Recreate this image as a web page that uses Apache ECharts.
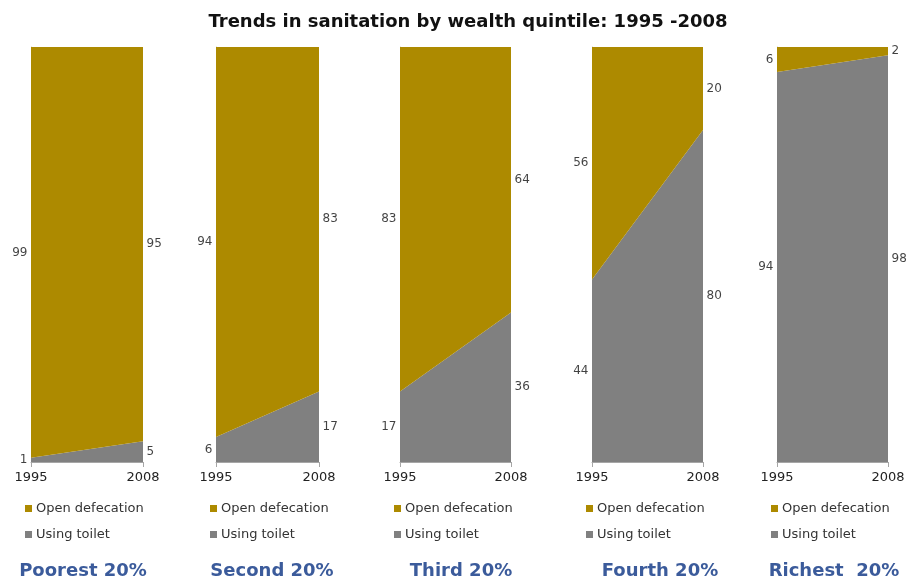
<!DOCTYPE html>
<html>
<head>
<meta charset="utf-8">
<script src="https://cdn.jsdelivr.net/npm/echarts@6/dist/echarts.min.js"></script>
<style>html,body{margin:0;padding:0;background:#fff}#c{width:918px;height:580px}</style>
</head>
<body>
<div id="c"></div>
<script>
const years = ['1995', '2008'];
const groups = ['Poorest 20%', 'Second 20%', 'Third 20%', 'Fourth 20%', 'Richest  20%'];
const usingToilet = [[1, 5], [6, 17], [17, 36], [44, 80], [94, 98]];
const openDefecation = [[99, 95], [94, 83], [83, 64], [56, 20], [6, 2]];
const seriesNames = ['Open defecation', 'Using toilet'];
const chartTitle = 'Trends in sanitation by wealth quintile: 1995 -2008';

const gridLefts = [31, 216, 400, 592, 777];
const gridWidths = [112, 103, 111, 111, 111];
const titleCenters = [78, 267, 456, 655, 829];
const GOLD = '#ad8a00', GRAY = '#808080';
const FONT = '"DejaVu Sans", sans-serif';

const option = {
  backgroundColor: '#fff',
  animation: false,
  title: [{
    text: chartTitle, left: 463, top: 8, textAlign: 'center',
    textStyle: {fontFamily: FONT, fontSize: 18, fontWeight: 'bold', color: '#111'}
  }],
  grid: [], xAxis: [], yAxis: [], series: [], legend: []
};

groups.forEach((g, i) => {
  option.grid.push({left: gridLefts[i], width: gridWidths[i], top: 47, height: 415});
  option.xAxis.push({
    type: 'category', gridIndex: i, data: years, boundaryGap: false,
    axisLine: {lineStyle: {color: '#a6a6a6', width: 1}},
    axisTick: {show: true, length: 5, lineStyle: {color: '#a6a6a6'}},
    axisLabel: {fontFamily: FONT, fontSize: 13, color: '#222', margin: 9}
  });
  option.yAxis.push({
    type: 'value', gridIndex: i, min: 0, max: 100, interval: 10,
    axisLine: {show: true, lineStyle: {color: '#c8c8c8'}},
    axisTick: {show: false}, axisLabel: {show: false}, splitLine: {show: false}
  });
  option.series.push({
    name: seriesNames[1], type: 'line', xAxisIndex: i, yAxisIndex: i, stack: 's' + i,
    data: usingToilet[i], symbol: 'none', lineStyle: {width: 0},
    areaStyle: {color: GRAY, opacity: 1}, itemStyle: {color: GRAY}, z: 2
  });
  option.series.push({
    name: seriesNames[0], type: 'line', xAxisIndex: i, yAxisIndex: i, stack: 's' + i,
    data: openDefecation[i], symbol: 'none', lineStyle: {width: 0},
    areaStyle: {color: GOLD, opacity: 1}, itemStyle: {color: GOLD}, z: 2
  });
  // value labels at segment mid-heights
  const lbl = [];
  [0, 1].forEach(k => {
    const t = usingToilet[i][k], o = openDefecation[i][k];
    const pos = k === 0 ? 'left' : 'right';
    lbl.push({value: [k, t / 2, t], label: {position: pos}});
    lbl.push({value: [k, t + o / 2, o], label: {position: pos}});
  });
  option.series.push({
    name: 'labels' + i, type: 'scatter', xAxisIndex: i, yAxisIndex: i,
    data: lbl, symbolSize: 1, itemStyle: {color: 'rgba(0,0,0,0)'}, silent: true, z: 5,
    label: {show: true, distance: 3, formatter: p => p.value[2],
      fontFamily: FONT, fontSize: 12, color: '#111'}
  });
  option.legend.push({
    data: seriesNames, orient: 'vertical', left: gridLefts[i] - 11, top: 497,
    icon: 'rect', itemWidth: 7, itemHeight: 7, itemGap: 13, selectedMode: false,
    textStyle: {fontFamily: FONT, fontSize: 13, color: '#333', padding: [0, 0, 0, -1]}
  });
  option.title.push({
    text: g, left: titleCenters[i], top: 557, textAlign: 'center',
    textStyle: {fontFamily: FONT, fontSize: 18, fontWeight: 'bold', color: '#3b5b9b'}
  });
});

const chart = echarts.init(document.getElementById('c'), null, {renderer: 'canvas'});
chart.setOption(option);
</script>
</body>
</html>
